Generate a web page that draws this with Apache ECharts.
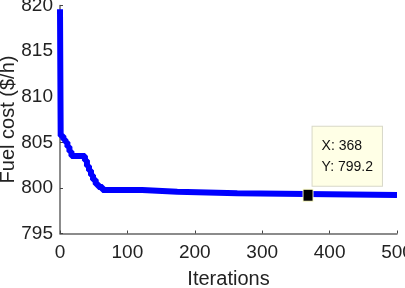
<!DOCTYPE html>
<html>
<head>
<meta charset="utf-8">
<script src="https://cdn.jsdelivr.net/npm/echarts@6/dist/echarts.min.js"></script>
<style>
html,body{margin:0;padding:0;background:#fff;}
#c{width:405px;height:288px;}
</style>
</head>
<body>
<div id="c"></div>
<script>
// Step breakpoints of the convergence curve (value held until next iteration)
const iterations = [0, 1, 5, 8, 11, 14, 17, 37, 40, 43, 46, 49, 53, 57, 63, 122, 174, 263, 500];
const fuelCost = [819.6, 805.7, 805.3, 805.0, 804.5, 804.0, 803.5, 803.0, 802.4, 801.9, 801.4, 800.9, 800.4, 800.1, 799.78, 799.58, 799.41, 799.22, 799.22];
const xTicks = [0, 100, 200, 300, 400, 500];
const yTicks = [795, 800, 805, 810, 815, 820];
const tipPoint = {x: 368, y: 799.2};

const seriesData = iterations.map((it, i) => [it, fuelCost[i]]);
const labelFont = '"Liberation Sans Narrow", "Arial Narrow", "Liberation Sans", Arial, sans-serif';

const chart = echarts.init(document.getElementById('c'), null, {renderer: 'canvas'});
chart.setOption({
  animation: false,
  backgroundColor: '#ffffff',
  grid: {left: 60, right: 8, top: 5.5, bottom: 54.5, containLabel: false, outerBoundsMode: 'none'},
  xAxis: {
    type: 'value',
    min: xTicks[0], max: xTicks[xTicks.length - 1], interval: 100,
    name: 'Iterations', nameLocation: 'middle', nameGap: 36, nameMoveOverlap: false,
    nameTextStyle: {fontFamily: labelFont, fontSize: 20, color: '#222'},
    axisLine: {lineStyle: {color: '#666', width: 1.5}},
    axisTick: {inside: true, length: 3, lineStyle: {color: '#444'}},
    axisLabel: {fontFamily: labelFont, fontSize: 19, color: '#222', margin: 10},
    splitLine: {show: false}
  },
  yAxis: {
    type: 'value',
    min: yTicks[0], max: yTicks[yTicks.length - 1], interval: 5,
    name: 'Fuel cost ($/h)', nameLocation: 'middle', nameGap: 42, nameRotate: 90, nameMoveOverlap: false,
    nameTextStyle: {fontFamily: '"Liberation Sans", Arial, sans-serif', fontSize: 20, color: '#222'},
    axisLine: {lineStyle: {color: '#666', width: 1.5}},
    axisTick: {inside: true, length: 3, lineStyle: {color: '#444'}},
    axisLabel: {fontFamily: labelFont, fontSize: 19, color: '#222', margin: 7},
    splitLine: {show: false}
  },
  series: [{
    type: 'line',
    step: 'end',
    data: seriesData,
    showSymbol: false,
    lineStyle: {color: '#0000ff', width: 6},
    clip: true,
    markPoint: {
      symbol: 'rect',
      symbolSize: [10, 12],
      itemStyle: {color: '#000', borderColor: '#ffffcc', borderWidth: 1},
      data: [{coord: [tipPoint.x, tipPoint.y], value: tipPoint.y}],
      label: {
        show: true,
        position: [10, -62],
        align: 'left',
        verticalAlign: 'top',
        formatter: 'X: ' + tipPoint.x + '\nY: ' + tipPoint.y.toFixed(1),
        fontFamily: '"Liberation Sans", Arial, sans-serif',
        fontSize: 14,
        lineHeight: 21,
        color: '#111',
        backgroundColor: '#ffffe6',
        borderColor: '#d8d8c8',
        borderWidth: 1,
        padding: [9, 9, 8, 9]
      }
    }
  }]
});
</script>
</body>
</html>
